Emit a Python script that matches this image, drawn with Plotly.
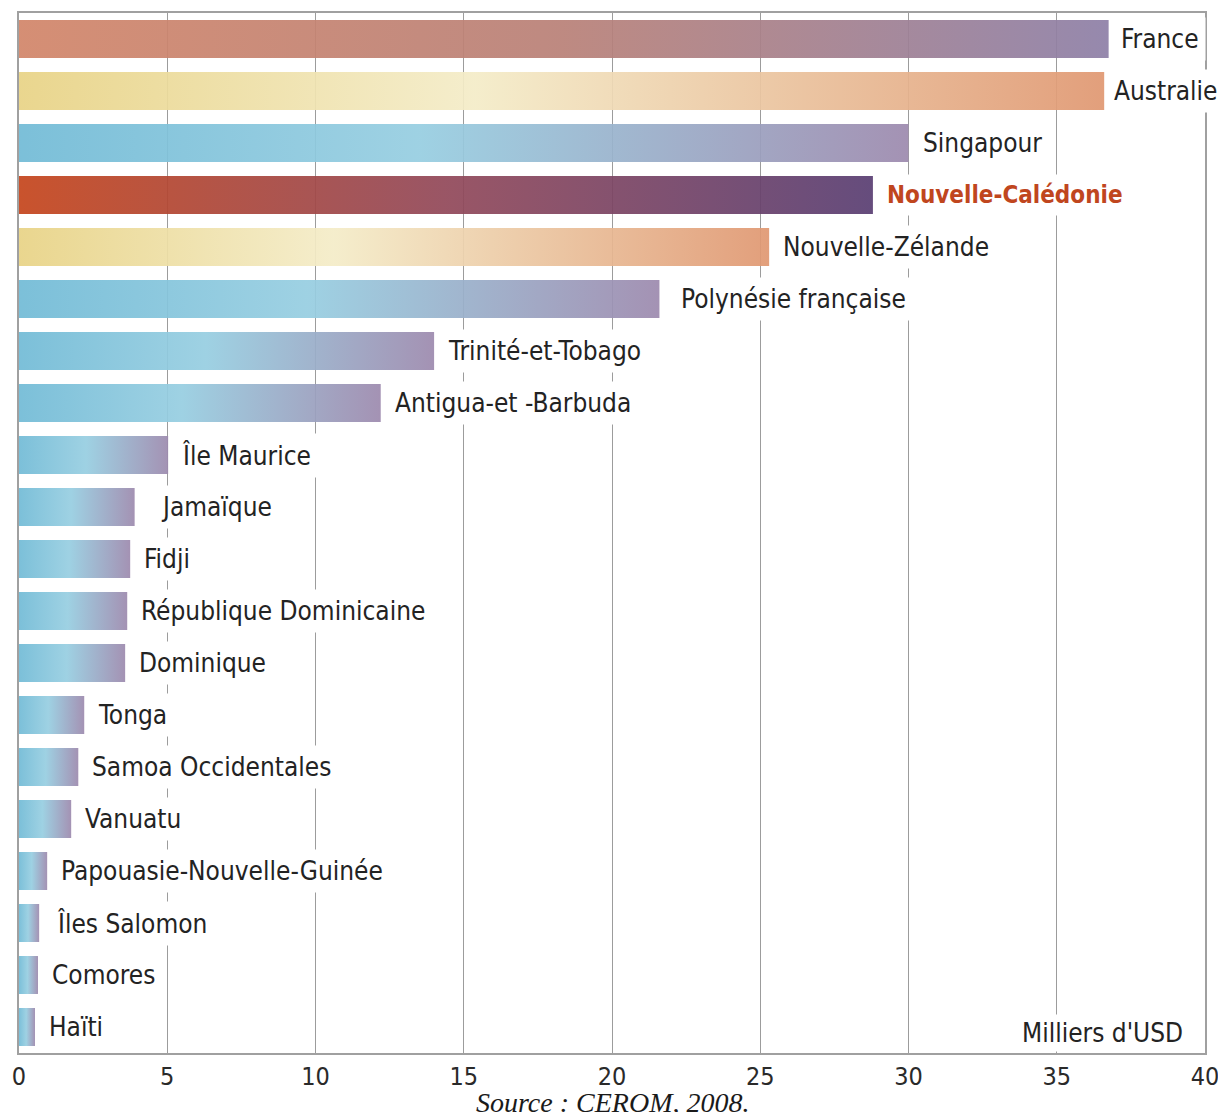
import plotly.graph_objects as go

# ---------------- data ----------------
countries = [
    "France", "Australie", "Singapour", "Nouvelle-Calédonie", "Nouvelle-Zélande",
    "Polynésie française", "Trinité-et-Tobago", "Antigua-et -Barbuda", "Île Maurice",
    "Jamaïque", "Fidji", "République Dominicaine", "Dominique", "Tonga",
    "Samoa Occidentales", "Vanuatu", "Papouasie-Nouvelle-Guinée", "Îles Salomon",
    "Comores", "Haïti",
]
values = [
    36.75, 36.6, 30.0, 28.8, 25.3,
    21.6, 14.0, 12.2, 5.03,
    3.9, 3.75, 3.65, 3.58, 2.2,
    2.0, 1.76, 0.95, 0.68,
    0.64, 0.54,
]
x_ticks = [0, 5, 10, 15, 20, 25, 30, 35, 40]
unit_label = "Milliers d'USD"
source_text = "Source : CEROM, 2008."
highlight = "Nouvelle-Calédonie"

# ---------------- styles ----------------
FONT = "DejaVu Sans Condensed, Liberation Sans Narrow, Arial Narrow, sans-serif"
BLUE = [[0, "#72bbd6"], [0.45, "#97cee1"], [1, "#9d8aae"]]
FRANCE = [[0, "#d2866a"], [0.5, "#b98178"], [1, "#8e80a7"]]
SAND = [[0, "#e8d386"], [0.42, "#f4ecc8"], [1, "#e09872"]]
NC = [[0, "#c5461d"], [0.5, "#92495a"], [1, "#5a3f73"]]
palette = {"France": FRANCE, "Australie": SAND, "Nouvelle-Zélande": SAND,
           "Nouvelle-Calédonie": NC}
extra_shift = {"Jamaïque": 12, "Polynésie française": 8, "Îles Salomon": 4,
               "Australie": -4, "France": -2}
half_h = 0.365

fig = go.Figure()
for i, (name, v) in enumerate(zip(countries, values)):
    fig.add_trace(go.Scatter(
        x=[0, v, v, 0, 0],
        y=[i - half_h, i - half_h, i + half_h, i + half_h, i - half_h],
        mode="none", fill="toself",
        fillgradient=dict(type="horizontal", colorscale=palette.get(name, BLUE)),
        opacity=0.93, hoverinfo="skip", showlegend=False,
    ))

annotations = []
for i, (name, v) in enumerate(zip(countries, values)):
    is_hl = name == highlight
    annotations.append(dict(
        x=v, y=i, xref="x", yref="y", xanchor="left", yanchor="middle",
        xshift=7 + extra_shift.get(name, 0), showarrow=False,
        text=f"<b>{name}</b>" if is_hl else name,
        font=dict(family=FONT, size=24 if is_hl else 26,
                  color="#c0461e" if is_hl else "#232323"),
        bgcolor="white", borderpad=6,
    ))

annotations.append(dict(
    x=40, y=len(countries) - 0.5, xref="x", yref="y", xanchor="right", yanchor="bottom",
    xshift=-18, yshift=1, showarrow=False, text=unit_label,
    font=dict(family=FONT, size=26, color="#232323"), bgcolor="white", borderpad=3,
))
annotations.append(dict(
    x=0.5, y=-0.0475, xref="paper", yref="paper", xanchor="center", yanchor="middle",
    showarrow=False, text=f"<i>{source_text}</i>",
    font=dict(family="Liberation Serif, DejaVu Serif, serif", size=28, color="#1a1a1a"),
))

fig.update_layout(
    width=1218, height=1112,
    margin=dict(l=19, r=13, t=13, b=59, autoexpand=False),
    paper_bgcolor="white", plot_bgcolor="white",
    annotations=annotations,
    xaxis=dict(
        range=[0, 40], tickvals=x_ticks, ticktext=[str(t) for t in x_ticks],
        showgrid=True, gridcolor="#9c9c9c", gridwidth=1.3, zeroline=False,
        showline=True, mirror=True, linecolor="#a0a0a0", linewidth=2,
        ticks="", tickfont=dict(family=FONT, size=25, color="#2a2a2a"),
        ticklabeloverflow="allow", automargin=False, fixedrange=True,
    ),
    yaxis=dict(
        range=[len(countries) - 0.5, -0.5], showgrid=False, zeroline=False,
        showticklabels=False, showline=True, mirror=True, linecolor="#a0a0a0",
        linewidth=2, ticks="", automargin=False, fixedrange=True,
    ),
)

fig.write_html("out.html")
